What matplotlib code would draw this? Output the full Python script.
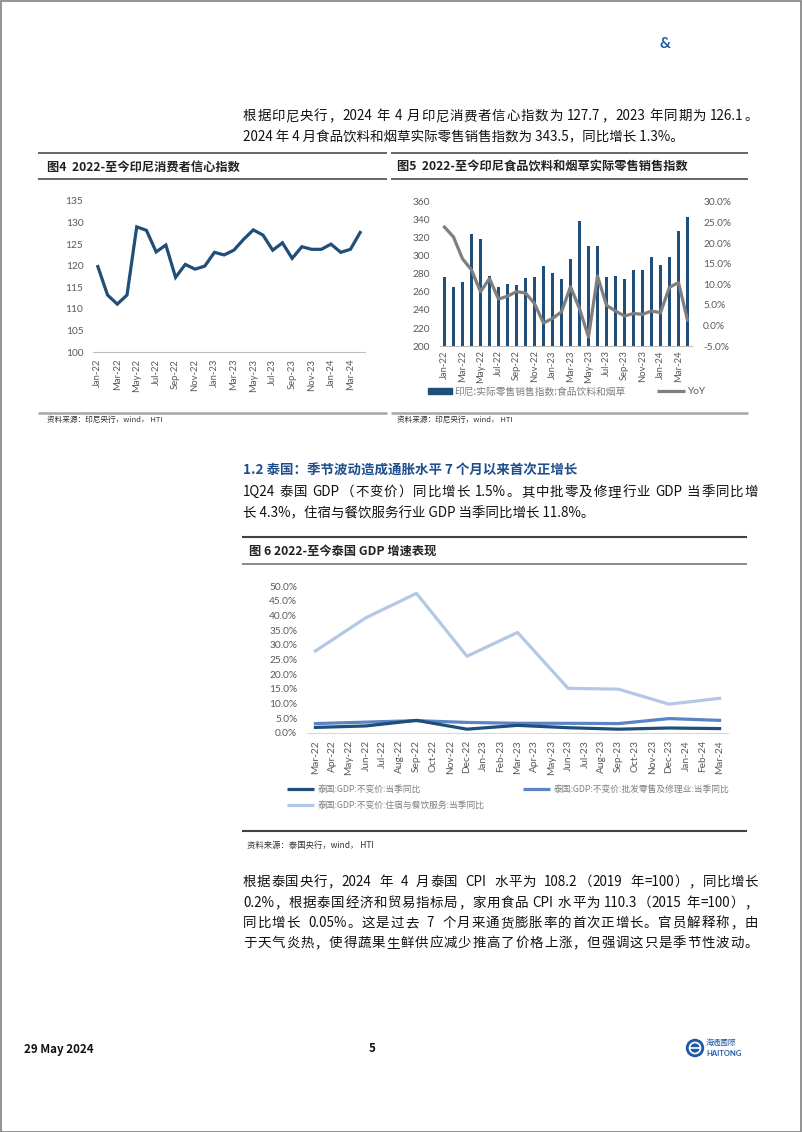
import re
import matplotlib
matplotlib.use("Agg")
import matplotlib.pyplot as plt
from matplotlib.lines import Line2D
from matplotlib.patches import Rectangle, Ellipse

plt.rcParams['font.family'] = ['Noto Sans CJK SC', 'DejaVu Sans']

# ---------------- data ----------------
months_id = ['Jan-22', 'Feb-22', 'Mar-22', 'Apr-22', 'May-22', 'Jun-22', 'Jul-22', 'Aug-22',
             'Sep-22', 'Oct-22', 'Nov-22', 'Dec-22', 'Jan-23', 'Feb-23', 'Mar-23', 'Apr-23',
             'May-23', 'Jun-23', 'Jul-23', 'Aug-23', 'Sep-23', 'Oct-23', 'Nov-23', 'Dec-23',
             'Jan-24', 'Feb-24', 'Mar-24', 'Apr-24']
consumer_conf = [119.8, 113.2, 111.1, 113.2, 129.0, 128.2, 123.2, 124.8, 117.3, 120.3, 119.2, 119.9,
                 123.1, 122.5, 123.6, 126.1, 128.3, 127.1, 123.6, 125.3, 121.7, 124.4, 123.8, 123.8,
                 125.0, 123.1, 123.8, 127.7]
retail_index = [277, 265, 271, 324, 319, 278, 265, 269, 268, 275, 277, 289,
                281, 274, 297, 339, 311, 311, 277, 278, 274, 284, 284, 299,
                290, 299, 328, 343.5]
retail_yoy = [23.9, 21.5, 16.2, 13.5, 8.2, 11.4, 6.4, 7.1, 8.2, 7.9, 5.3, 0.6,
              1.7, 3.3, 9.4, 4.1, -2.8, 12.0, 4.9, 3.5, 2.3, 2.9, 2.7, 3.5,
              3.1, 9.3, 10.4, 1.3]

months_th = ['Mar-22', 'Apr-22', 'May-22', 'Jun-22', 'Jul-22', 'Aug-22', 'Sep-22', 'Oct-22',
             'Nov-22', 'Dec-22', 'Jan-23', 'Feb-23', 'Mar-23', 'Apr-23', 'May-23', 'Jun-23',
             'Jul-23', 'Aug-23', 'Sep-23', 'Oct-23', 'Nov-23', 'Dec-23', 'Jan-24', 'Feb-24', 'Mar-24']
quarters_th = ['Mar-22', 'Jun-22', 'Sep-22', 'Dec-22', 'Mar-23', 'Jun-23', 'Sep-23', 'Dec-23', 'Mar-24']
gdp_total = [1.9, 2.4, 4.3, 1.3, 2.6, 1.8, 1.3, 1.7, 1.5]
gdp_trade = [3.2, 3.7, 4.2, 3.6, 3.3, 3.3, 3.2, 4.9, 4.3]
gdp_hotel = [27.9, 39.2, 47.5, 26.1, 34.2, 15.2, 14.9, 9.8, 11.8]
th_labels = ['泰国:GDP:不变价:当季同比', '泰国:GDP:不变价:批发零售及修理业:当季同比',
             '泰国:GDP:不变价:住宿与餐饮服务:当季同比']

# ---------------- layout helpers ----------------
W, H = 802, 1132
fig = plt.figure(figsize=(W / 100, H / 100), dpi=100)
renderer = fig.canvas.get_renderer()


def fy(y):
    return 1 - y / H


def add_ax(l, t, r, b):
    return fig.add_axes([l / W, 1 - b / H, (r - l) / W, (b - t) / H])


def hline(x0, x1, y, color, lw):
    fig.add_artist(Line2D([x0 / W, x1 / W], [fy(y), fy(y)], color=color, lw=lw,
                          transform=fig.transFigure, solid_capstyle='butt'))


def text(x, y, s, **kw):
    kw.setdefault('va', 'center')
    return fig.text(x / W, fy(y), s, **kw)


def justified(x0, x1, y, s, **kw):
    toks = re.findall(r'[A-Za-z0-9.%=\-:]+|\s+|\S', s)
    fs_px = kw.get('fontsize', 10) * 100 / 72
    items = []
    for tk in toks:
        if tk.isspace():
            items.append((None, 0.28 * fs_px * len(tk)))
        else:
            t = text(0, y, tk, **kw)
            items.append((t, t.get_window_extent(renderer).width))
    n_gaps = sum(1 for it in items if it[0] is not None) - 1
    total = sum(w for _, w in items)
    gap = (x1 - x0 - total) / max(n_gaps, 1)
    x = x0
    first = True
    for t, w in items:
        if t is None:
            x += w
            continue
        if not first:
            x += gap
        t.set_position((x / W, fy(y)))
        x += w
        first = False


BODY = dict(fontsize=9.7, color='#111111')
TICK = dict(fontsize=7.3, color='#595959', family=['Lato', 'DejaVu Sans'])
XTICK = dict(fontsize=6.8, color='#595959', family=['Lato', 'DejaVu Sans'])

# page border
fig.add_artist(Rectangle((0.5 / W, 0.5 / H), (W - 1.5) / W, (H - 1.5) / H, transform=fig.transFigure,
                         fill=False, edgecolor='#808080', lw=1.2))
text(665, 44, '&', fontsize=11, color='#1f5aa6', weight='bold', ha='center',
     family=['Lato', 'DejaVu Sans'])

# body text (top)
justified(243, 758, 116, '根据印尼央行，2024 年 4 月印尼消费者信心指数为 127.7，2023 年同期为 126.1。', **BODY)
text(243, 137, '2024 年 4 月食品饮料和烟草实际零售销售指数为 343.5，同比增长 1.3%。', **BODY)

# ---------------- figure 4 ----------------
hline(38, 387, 153, '#595959', 1.3)
hline(38, 387, 179, '#595959', 1.3)
hline(38, 387, 413, '#a6a6a6', 1.8)
text(47, 167, '图4  2022-至今印尼消费者信心指数', fontsize=8.8, weight='bold', color='#222222')
text(47, 420, '资料来源：印尼央行，wind， HTI', fontsize=5.5, color='#333333')

ax4 = add_ax(93, 201, 365, 352)
x4 = list(range(len(months_id)))
ax4.plot(x4, consumer_conf, color='#1f4e79', lw=2.3, solid_joinstyle='miter')
ax4.set_xlim(-0.5, len(months_id) - 0.5)
ax4.set_ylim(100, 135)
ax4.set_yticks(range(100, 136, 5))
ax4.set_xticks(x4[::2])
ax4.set_xticklabels(months_id[::2], rotation=90)
for s in ['top', 'right', 'left']:
    ax4.spines[s].set_visible(False)
ax4.spines['bottom'].set_color('#bfbfbf')
ax4.tick_params(axis='y', length=0, pad=7)
ax4.tick_params(axis='x', length=0, pad=5)
for lab in ax4.get_yticklabels():
    lab.set(**TICK)
for lab in ax4.get_xticklabels():
    lab.set(**XTICK)

# ---------------- figure 5 ----------------
hline(391, 748, 153, '#595959', 1.3)
hline(391, 748, 179, '#595959', 1.3)
hline(391, 748, 413, '#a6a6a6', 1.8)
text(397, 167, '图5  2022-至今印尼食品饮料和烟草实际零售销售指数', fontsize=8.8, weight='bold', color='#222222')
text(397, 420, '资料来源：印尼央行，wind， HTI', fontsize=5.5, color='#333333')

ax5 = add_ax(440, 202, 692, 346)
x5 = list(range(len(months_id)))
ax5.bar(x5, retail_index, width=0.38, color='#1f4e79', bottom=0)
ax5.set_xlim(-0.5, len(months_id) - 0.5)
ax5.set_ylim(200, 360)
ax5.set_yticks(range(200, 361, 20))
ax5.set_xticks(x5[::2])
ax5.set_xticklabels(months_id[::2], rotation=90)
ax5b = ax5.twinx()
ax5b.plot(x5, retail_yoy, color='#7f7f7f', lw=2.3)
ax5b.set_ylim(-5, 30)
yt = list(range(-5, 31, 5))
ax5b.set_yticks(yt)
ax5b.set_yticklabels([f'{v:.1f}%' for v in yt])
for a in (ax5, ax5b):
    for s in ['top', 'right', 'left']:
        a.spines[s].set_visible(False)
ax5b.spines['bottom'].set_visible(False)
ax5.spines['bottom'].set_color('#bfbfbf')
ax5.tick_params(axis='y', length=0, pad=7)
ax5.tick_params(axis='x', length=0, pad=3)
ax5b.tick_params(axis='y', length=0, pad=8)
for lab in ax5.get_yticklabels() + ax5b.get_yticklabels():
    lab.set(**TICK)
for lab in ax5.get_xticklabels():
    lab.set(**XTICK)

fig.add_artist(Rectangle((428 / W, fy(394)), 24 / W, 6 / H, transform=fig.transFigure,
                         color='#1f4e79'))
text(454, 392, '印尼:实际零售销售指数:食品饮料和烟草', fontsize=7, color='#7f7f7f')
hline(657, 685, 391, '#7f7f7f', 2.3)
text(687, 391, 'YoY', fontsize=7.3, color='#595959', family=['Lato', 'DejaVu Sans'])

# ---------------- section 1.2 ----------------
text(243, 471, '1.2 泰国：季节波动造成通胀水平 7 个月以来首次正增长', fontsize=9.7, color='#1f4e8c',
     weight='bold')
justified(243, 758, 492, '1Q24 泰国 GDP（不变价）同比增长 1.5%。其中批零及修理行业 GDP 当季同比增', **BODY)
text(243, 513, '长 4.3%，住宿与餐饮服务行业 GDP 当季同比增长 11.8%。', **BODY)

# ---------------- figure 6 ----------------
hline(242, 747, 537, '#404040', 1.5)
hline(242, 747, 564, '#808080', 1.3)
hline(242, 747, 831, '#404040', 1.5)
text(249, 551, '图 6 2022-至今泰国 GDP 增速表现', fontsize=8.8, weight='bold', color='#222222')
text(247, 845, '资料来源：泰国央行，wind， HTI', fontsize=6, color='#333333')

ax6 = add_ax(307, 586, 728, 733)
x6 = list(range(len(months_th)))
qpos = [months_th.index(q) for q in quarters_th]
c_dark, c_mid, c_light = '#1f4e79', '#5b84c4', '#b4c7e7'
ax6.plot(qpos, gdp_hotel, color=c_light, lw=2.3)
ax6.plot(qpos, gdp_trade, color=c_mid, lw=2.3)
ax6.plot(qpos, gdp_total, color=c_dark, lw=2.3)
ax6.set_xlim(-0.5, len(months_th) - 0.5)
ax6.set_ylim(0, 50)
yt6 = list(range(0, 51, 5))
ax6.set_yticks(yt6)
ax6.set_yticklabels([f'{v:.1f}%' for v in yt6])
ax6.set_xticks(x6)
ax6.set_xticklabels(months_th, rotation=90)
for s in ['top', 'right', 'left']:
    ax6.spines[s].set_visible(False)
ax6.spines['bottom'].set_color('#d9d9d9')
ax6.tick_params(axis='y', length=0, pad=7)
ax6.tick_params(axis='x', length=0, pad=5)
for lab in ax6.get_xticklabels() + ax6.get_yticklabels():
    lab.set(**TICK)

for (x0, y0), lab, col in zip([(287, 789), (523, 789), (287, 805)], th_labels, [c_dark, c_mid, c_light]):
    hline(x0, x0 + 27, y0, col, 2.3)
    text(x0 + 31, y0, lab, fontsize=6.3, color='#7f7f7f')

# ---------------- bottom text ----------------
justified(243, 758, 882, '根据泰国央行，2024  年  4  月泰国  CPI  水平为  108.2（2019  年=100），同比增长', **BODY)
justified(243, 758, 903, '0.2%，根据泰国经济和贸易指标局，家用食品 CPI 水平为 110.3（2015 年=100），', **BODY)
justified(243, 758, 923, '同比增长  0.05%。这是过去  7  个月来通货膨胀率的首次正增长。官员解释称，由', **BODY)
justified(243, 758, 943, '于天气炎热，使得蔬果生鲜供应减少推高了价格上涨，但强调这只是季节性波动。', **BODY)

# ---------------- footer ----------------
text(24, 1049, '29 May 2024', fontsize=8.3, weight='bold', color='#111111')
text(372, 1049, '5', fontsize=8.3, weight='bold', color='#111111', ha='center')
fig.add_artist(Ellipse((695 / W, fy(1048)), 17 / W, 17 / H, transform=fig.transFigure, color='#1f5aa6'))
fig.add_artist(Ellipse((695 / W, fy(1048)), 11 / W, 11 / H, transform=fig.transFigure,
                       fill=False, edgecolor='white', lw=1.2))
hline(689, 701, 1048, 'white', 1.2)
text(706, 1043, '海通國際', fontsize=5.5, color='#1f5aa6')
text(706, 1053, 'HAITONG', fontsize=5.5, color='#1f5aa6', weight='bold', family=['Lato', 'DejaVu Sans'])

fig.savefig('out.png', dpi=100)
